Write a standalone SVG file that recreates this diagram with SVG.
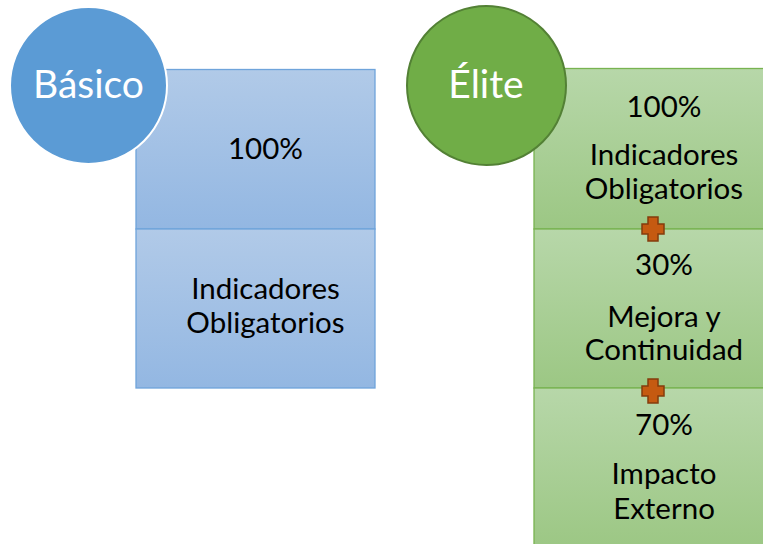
<svg xmlns="http://www.w3.org/2000/svg" width="763" height="544" viewBox="0 0 763 544">
  <defs>
    <linearGradient id="gBlue" x1="0" y1="0" x2="0" y2="1">
      <stop offset="0" stop-color="#B1CAE8"/>
      <stop offset="1" stop-color="#93B7E2"/>
    </linearGradient>
    <linearGradient id="gGreen" x1="0" y1="0" x2="0" y2="1">
      <stop offset="0" stop-color="#B7D7A9"/>
      <stop offset="1" stop-color="#9CC784"/>
    </linearGradient>
    <path id="plus" d="M-5,-12 H5 V-5 H11 V5 H5 V12 H-5 V5 H-11 V-5 H-5 Z"/>
  </defs>
  <style>
    .boxB { fill: url(#gBlue); stroke: #6FA4DB; stroke-width: 1.3; }
    .boxG { fill: url(#gGreen); stroke: #78B350; stroke-width: 1.3; }
    .circB { fill: #5B9BD5; stroke: #FFFFFF; stroke-width: 2; }
    .circG { fill: #70AD47; stroke: #538135; stroke-width: 2; }
    .lbl { font-family: Lato, "Open Sans", "Liberation Sans", sans-serif; fill: #FFFFFF; font-size: 39px; text-anchor: middle; }
    .txt { font-family: Lato, "Open Sans", "Liberation Sans", sans-serif; fill: #000000; font-size: 29.5px; text-anchor: middle; }
    .plus { fill: #C55A11; stroke: #843C0C; stroke-width: 1.5; }
  </style>

  <g id="basico">
    <rect class="boxB" x="136" y="69.5" width="239" height="159.5"/>
    <rect class="boxB" x="136" y="229" width="239" height="159"/>
    <text class="txt" x="265.5" y="159">100%</text>
    <text class="txt" x="265.5" y="299">Indicadores</text>
    <text class="txt" x="265.5" y="333">Obligatorios</text>
    <circle class="circB" cx="88.5" cy="85.5" r="78.5"/>
    <text class="lbl" x="88.5" y="98">Básico</text>
  </g>

  <g id="elite">
    <rect class="boxG" x="534" y="68.5" width="240" height="160.5"/>
    <rect class="boxG" x="534" y="229" width="240" height="159"/>
    <rect class="boxG" x="534" y="388" width="240" height="160"/>
    <text class="txt" x="664" y="117">100%</text>
    <text class="txt" x="664" y="165">Indicadores</text>
    <text class="txt" x="664" y="199">Obligatorios</text>
    <text class="txt" x="664" y="275">30%</text>
    <text class="txt" x="664" y="327">Mejora y</text>
    <text class="txt" x="664" y="360">Continuidad</text>
    <text class="txt" x="664" y="435">70%</text>
    <text class="txt" x="664" y="484">Impacto</text>
    <text class="txt" x="664" y="519">Externo</text>
    <circle class="circG" cx="486.5" cy="85.5" r="79.5"/>
    <text class="lbl" x="486" y="98">Élite</text>
  </g>

  <g id="connectors">
    <use href="#plus" class="plus" x="653" y="229"/>
    <use href="#plus" class="plus" x="653" y="391"/>
  </g>
</svg>
